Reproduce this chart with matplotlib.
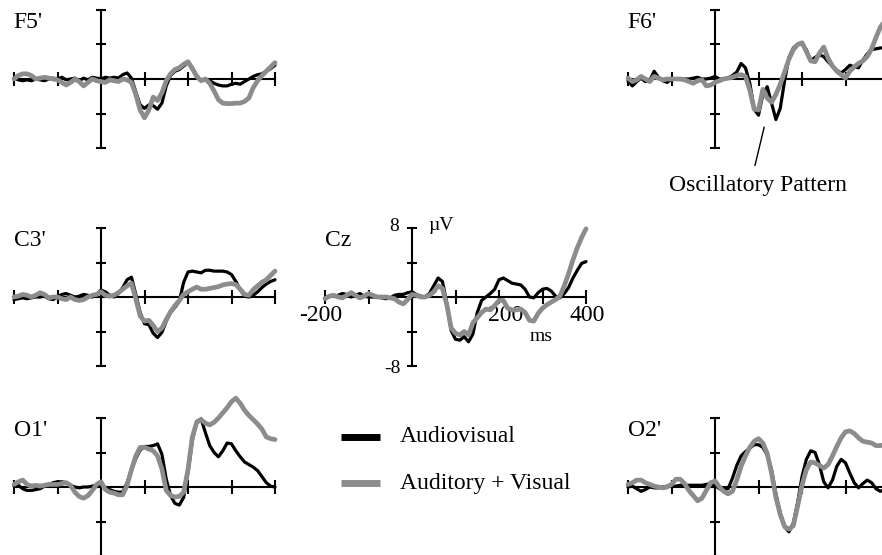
import numpy as np
import matplotlib
matplotlib.use("Agg")
import matplotlib.pyplot as plt

plt.rcParams["font.family"] = ["Liberation Serif", "DejaVu Serif"]

# ---------------------------------------------------------------- data
# time axis (ms) and grand-average ERP amplitudes (µV) per electrode
times = np.arange(-200, 401, 10)

f5_av = [0.1, -0.1, -0.2, -0.1, -0.2, 0.0, -0.1, -0.2, 0.0, 0.1,
         0.0, 0.2, -0.1, 0.0, 0.1, -0.2, 0.1, -0.1, 0.2, 0.1,
         0.0, 0.2, 0.1, 0.2, 0.1, 0.5, 0.7, 0.1, -1.5, -3.0,
         -3.4, -3.0, -3.1, -3.5, -2.8, -0.8, 0.4, 0.9, 1.1, 1.5,
         1.9, 1.3, 0.4, -0.2, 0.0, -0.2, -0.5, -0.7, -0.8, -0.8,
         -0.6, -0.5, -0.6, -0.3, 0.0, 0.3, 0.5, 0.6, 0.9, 1.2, 1.6]
f5_ax = [0.0, 0.4, 0.6, 0.6, 0.4, 0.0, 0.1, 0.2, 0.1, 0.0,
         -0.1, -0.4, -0.7, -0.4, 0.0, -0.3, -0.8, -0.4, 0.0, -0.2,
         -0.3, -0.4, -0.1, -0.2, -0.3, 0.0, -0.1, -0.4, -1.8, -3.6,
         -4.5, -3.6, -2.1, -2.5, -1.6, -0.2, 0.6, 1.1, 1.3, 1.7,
         2.0, 1.2, 0.3, -0.2, 0.0, -0.5, -1.4, -2.4, -2.8, -2.85,
         -2.85, -2.8, -2.8, -2.6, -2.2, -1.0, -0.2, 0.4, 0.9, 1.4, 1.9]

f6_av = [-0.2, -0.8, -0.3, 0.1, -0.3, -0.2, 0.9, 0.2, -0.2, -0.4,
         0.0, 0.0, 0.0, 0.0, 0.0, 0.1, 0.2, 0.0, 0.0, 0.1,
         0.3, 0.0, 0.0, 0.1, 0.4, 0.8, 1.8, 1.3, -0.5, -3.5,
         -4.2, -1.8, -0.9, -2.8, -4.7, -3.4, -0.2, 2.5, 3.6, 4.0,
         4.1, 3.4, 2.1, 2.5, 2.8, 2.6, 2.0, 1.5, 1.0, 0.7,
         1.1, 1.6, 1.4, 1.3, 2.2, 2.9, 3.4, 3.5, 3.6, 3.6, 3.6]
f6_ax = [0.1, -0.3, -0.1, 0.3, 0.0, -0.3, 0.3, 0.1, -0.1, 0.0,
         0.0, 0.0, 0.0, -0.1, -0.3, -0.5, -0.2, -0.1, -0.8, -0.7,
         -0.4, -0.2, 0.0, 0.1, 0.2, 0.4, 0.5, 0.3, -1.3, -3.5,
         -3.6, -1.2, -2.2, -2.7, -1.8, -0.6, 0.8, 2.3, 3.4, 4.0,
         4.2, 3.2, 2.1, 2.0, 3.0, 3.7, 2.4, 1.5, 0.9, 0.5,
         0.1, 0.9, 1.4, 1.8, 2.1, 2.6, 3.5, 4.8, 6.0, 6.7, 7.2]

c3_av = [-0.3, -0.2, -0.1, -0.2, -0.1, 0.0, 0.0, 0.1, -0.2, -0.3,
         0.0, 0.3, 0.4, 0.2, 0.0, 0.1, 0.3, 0.2, 0.0, 0.3,
         0.8, 0.6, 0.2, 0.0, 0.4, 1.1, 2.0, 2.3, 0.3, -1.8,
         -3.1, -3.2, -4.2, -4.7, -4.1, -2.8, -1.8, -1.2, -0.5, 1.7,
         2.9, 3.0, 2.9, 2.8, 3.1, 3.1, 3.0, 3.0, 3.0, 2.9,
         2.6, 1.8, 0.85, 0.1, 0.0, 0.2, 0.6, 1.1, 1.5, 1.8, 2.0]
c3_ax = [0.0, 0.1, 0.3, 0.2, 0.0, 0.2, 0.5, 0.3, -0.1, 0.0,
         0.0, -0.2, -0.3, 0.0, -0.3, -0.4, -0.3, 0.0, 0.2, 0.3,
         0.6, 0.2, 0.1, 0.2, 0.5, 0.9, 1.3, 1.6, -0.2, -2.2,
         -2.8, -2.7, -3.3, -4.0, -3.6, -2.6, -1.7, -1.0, -0.4, 0.3,
         0.6, 0.9, 1.15, 0.9, 0.9, 1.0, 1.1, 1.2, 1.4, 1.5,
         1.55, 1.45, 0.9, 0.3, 0.2, 0.85, 1.3, 1.7, 2.0, 2.5, 3.0]

cz_av = [-0.1, 0.1, 0.1, 0.2, 0.4, 0.3, 0.0, 0.2, 0.4, 0.1,
         0.0, 0.0, 0.0, -0.1, -0.2, -0.1, 0.2, 0.3, 0.3, 0.5,
         0.6, 0.3, 0.1, 0.0, 0.4, 1.3, 2.2, 1.8, -0.7, -3.9,
         -4.9, -5.0, -4.6, -5.2, -4.3, -1.8, -0.4, 0.0, 0.4, 0.9,
         2.0, 2.2, 1.9, 1.6, 1.5, 1.4, 0.9, 0.0, -0.1, 0.5,
         0.9, 1.0, 0.7, 0.1, -0.1, 0.4, 1.1, 2.2, 3.1, 3.9, 4.1]
cz_ax = [-0.2, 0.1, 0.2, 0.0, -0.1, 0.2, 0.5, 0.2, -0.1, 0.1,
         0.4, 0.2, 0.0, 0.0, 0.0, -0.1, -0.2, -0.6, -0.8, -0.3,
         0.3, 0.2, 0.0, 0.0, 0.2, 0.6, 1.3, 1.0, -0.9, -3.6,
         -4.2, -4.4, -4.0, -4.4, -3.0, -2.4, -1.8, -1.4, -1.5, -1.0,
         -0.4, -0.4, -1.3, -1.5, -1.5, -1.4, -1.8, -2.7, -2.8, -1.9,
         -1.3, -0.9, -0.6, -0.3, 0.1, 1.3, 2.7, 4.3, 5.7, 6.9, 7.9]

o1_av = [0.1, 0.2, -0.2, -0.4, -0.4, -0.3, -0.2, 0.1, 0.3, 0.5,
         0.6, 0.6, 0.5, 0.2, 0.0, -0.1, 0.0, 0.0, 0.1, 0.2,
         0.3, -0.1, -0.3, -0.5, -0.6, -0.6, 0.5, 2.0, 3.3, 4.3,
         4.7, 4.7, 4.8, 5.0, 3.8, 0.9, -1.0, -1.9, -2.1, -1.2,
         1.7, 5.4, 7.6, 7.9, 6.3, 4.8, 4.0, 3.5, 4.2, 5.1,
         5.0, 4.2, 3.5, 2.9, 2.6, 2.3, 1.9, 1.2, 0.5, 0.1, 0.0]
o1_ax = [0.3, 0.6, 0.8, 0.3, 0.1, 0.2, 0.1, 0.2, 0.3, 0.3,
         0.3, 0.4, 0.5, 0.2, -0.6, -1.1, -1.3, -1.0, -0.4, 0.3,
         0.6, -0.3, -0.6, -0.7, -0.9, -0.9, 0.2, 2.0, 3.6, 4.6,
         4.6, 4.4, 4.2, 3.6, 2.1, -0.4, -1.0, -1.15, -1.1, -0.6,
         2.0, 5.8, 7.5, 7.8, 7.4, 7.2, 7.5, 8.0, 8.6, 9.2,
         9.9, 10.3, 9.7, 8.9, 8.3, 7.8, 7.3, 6.7, 5.8, 5.6, 5.5]

o2_av = [0.0, 0.1, -0.2, -0.5, -0.3, 0.0, -0.1, -0.1, 0.0, 0.1,
         0.1, 0.1, 0.2, 0.2, 0.2, 0.2, 0.2, 0.2, 0.3, 0.4,
         0.2, -0.2, -0.3, -0.2, 1.0, 2.5, 3.6, 4.1, 4.5, 4.9,
         4.9, 4.6, 3.7, 2.0, -0.8, -3.0, -4.6, -5.2, -4.2, -1.8,
         1.2, 3.2, 4.2, 4.0, 2.6, 0.6, -0.1, 0.8, 2.4, 3.2,
         2.8, 1.6, 0.5, -0.1, 0.4, 0.8, 0.5, -0.2, -0.5, -0.3, -0.1]
o2_ax = [0.3, 0.5, 0.8, 0.8, 0.5, 0.3, 0.1, 0.0, -0.1, 0.0,
         0.3, 0.9, 0.9, 0.4, -0.4, -1.0, -1.6, -1.3, -0.4, 0.5,
         0.7, 0.0, -0.5, -0.8, -0.5, 0.8, 2.4, 3.6, 4.6, 5.3,
         5.6, 5.1, 3.9, 1.6, -1.2, -3.2, -4.6, -4.9, -4.5, -2.2,
         0.2, 2.0, 2.9, 2.8, 2.5, 2.2, 2.6, 3.6, 4.7, 5.7,
         6.4, 6.5, 6.2, 5.7, 5.3, 5.2, 5.1, 4.8, 4.8, 4.9, 5.0]

# electrode name -> (audiovisual, auditory + visual, left px of -200 ms, px row of 0 µV)
panels = {
    "F5'": (f5_av, f5_ax, 14, 79),
    "F6'": (f6_av, f6_ax, 628, 79),
    "C3'": (c3_av, c3_ax, 14, 297),
    "Cz":  (cz_av, cz_ax, 325, 297),
    "O1'": (o1_av, o1_ax, 14, 487),
    "O2'": (o2_av, o2_ax, 628, 487),
}

series_labels = ["Audiovisual", "Auditory + Visual"]
av_style = dict(color="#000000", lw=2.3, solid_capstyle="round",
                solid_joinstyle="round", zorder=3)
ax_style = dict(color="#8c8c8c", lw=3.4, solid_capstyle="round",
                solid_joinstyle="round", zorder=4)

# ---------------------------------------------------------------- layout
W, H = 882, 555
fig = plt.figure(figsize=(W / 100, H / 100), dpi=100)
fig.patch.set_facecolor("white")

PX_PER_MS = 261 / 600
PX_PER_UV = 69 / 8
FS = 17
FS_SMALL = 14


def add_panel(x_left, y_zero):
    left = x_left / W
    width = 600 * PX_PER_MS / W
    bottom = (H - (y_zero + 8 * PX_PER_UV)) / H
    height = 16 * PX_PER_UV / H
    ax = fig.add_axes([left, bottom, width, height])
    ax.set_xlim(-200, 400)
    ax.set_ylim(-8, 8)
    ax.patch.set_visible(False)
    for s in ("top", "right"):
        ax.spines[s].set_visible(False)
    ax.spines["left"].set_position(("data", 0))
    ax.spines["bottom"].set_position(("data", 0))
    for s in ("left", "bottom"):
        ax.spines[s].set_linewidth(1.5)
        ax.spines[s].set_zorder(2)
    ax.set_xticks(np.arange(-200, 401, 100))
    ax.set_yticks([-8, -4, 0, 4, 8])
    ax.tick_params(axis="x", direction="inout", length=10, width=1.5,
                   labelbottom=False)
    ax.tick_params(axis="y", direction="inout", length=6.5, width=1.5,
                   labelleft=False)
    return ax


axes = {}
for name, (av, ax_sum, x_left, y_zero) in panels.items():
    ax = add_panel(x_left, y_zero)
    ax.plot(times, av, clip_on=False, **av_style)
    ax.plot(times, ax_sum, clip_on=False, **ax_style)
    # electrode label at the upper left of the panel
    ax.text(-201, 6.6, name, fontsize=FS, ha="left", va="center",
            clip_on=False)
    axes[name] = ax

# the Cz panel carries the scale labels
cz = axes["Cz"]
cz.text(-41, 8.2, "8", fontsize=FS_SMALL, ha="center", va="center")
cz.text(-44, -8.3, "-8", fontsize=FS_SMALL, ha="center", va="center")
cz.text(67, 8.25, "µV", fontsize=FS_SMALL, ha="center", va="center")
cz.text(-209, -2.2, "-200", fontsize=FS, ha="center", va="center")
cz.text(216, -2.2, "200", fontsize=FS, ha="center", va="center")
cz.text(402, -2.2, "400", fontsize=FS, ha="center", va="center")
cz.text(297, -4.6, "ms", fontsize=FS_SMALL, ha="center", va="center")

# pointer to the oscillation in F6'
f6 = axes["F6'"]
f6.plot([113, 92], [-5.6, -10.0], color="black", lw=1.0, clip_on=False)
f6.text(99, -12.3, "Oscillatory Pattern", fontsize=FS, ha="center",
        va="center", clip_on=False)

# legend drawn in figure pixels
lg = fig.add_axes([0, 0, 1, 1])
lg.set_xlim(0, W)
lg.set_ylim(H, 0)
lg.axis("off")
for (label, style, y) in zip(series_labels, (av_style, ax_style), (437, 483)):
    st = dict(style)
    st["lw"] = 5.0
    st["solid_capstyle"] = "butt"
    lg.plot([341, 380], [y, y], **st)
    lg.text(400, y, label, fontsize=FS, ha="left", va="center")

fig.savefig("out.png", dpi=100)
